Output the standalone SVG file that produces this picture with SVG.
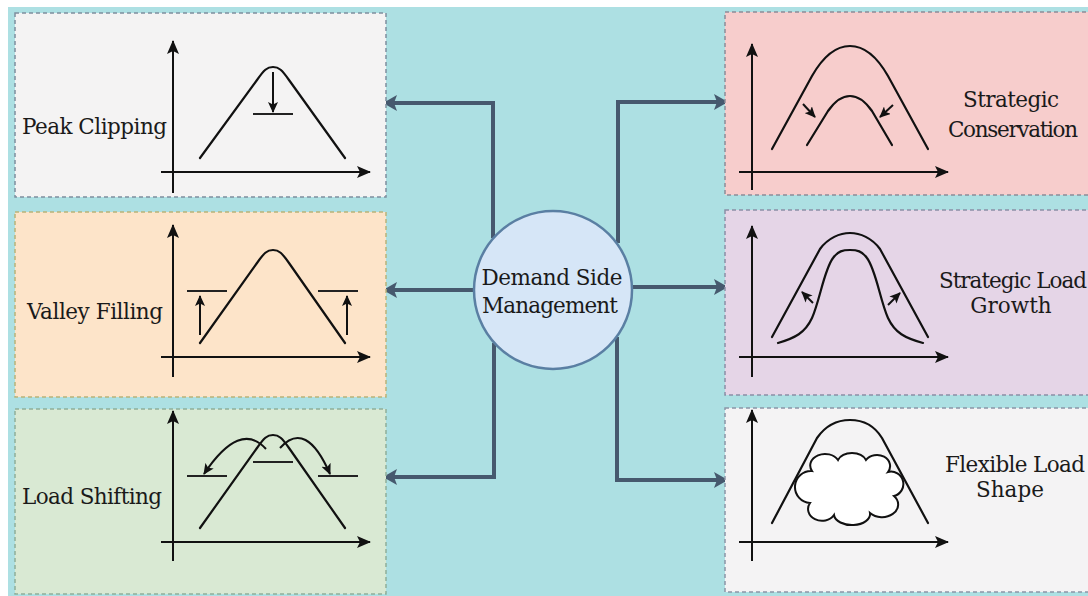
<svg xmlns="http://www.w3.org/2000/svg" width="1088" height="596" viewBox="0 0 1088 596">
<defs>
<style>
.bg{fill:#ade0e3}
.panel{stroke-width:1.5;stroke-dasharray:4 3}
.ax{fill:none;stroke:#111;stroke-width:2;marker-end:url(#axh)}
.cv{fill:none;stroke:#111;stroke-width:2.2;stroke-linejoin:round;stroke-linecap:round}
.ln{fill:none;stroke:#222;stroke-width:2.2}
.sa{fill:none;stroke:#111;stroke-width:2;marker-end:url(#sah)}
.conn{fill:none;stroke:#46596e;stroke-width:4;marker-end:url(#ch)}
.lbl{font-family:"DejaVu Serif","Liberation Serif",serif;font-size:21.5px;fill:#1a1a1a}
.mid{text-anchor:middle}
</style>
<marker id="axh" markerUnits="userSpaceOnUse" markerWidth="14" markerHeight="12" viewBox="0 0 14 12" refX="13" refY="6" orient="auto">
<path d="M0,0 L14,6 L0,12 L3,6 Z" fill="#111"/>
</marker>
<marker id="sah" markerUnits="userSpaceOnUse" markerWidth="11" markerHeight="10" viewBox="0 0 11 10" refX="10" refY="5" orient="auto">
<path d="M0,0 L11,5 L0,10 L2.5,5 Z" fill="#111"/>
</marker>
<marker id="ch" markerUnits="userSpaceOnUse" markerWidth="14" markerHeight="16" viewBox="0 0 14 16" refX="13" refY="8" orient="auto">
<path d="M0,0 L14,8 L0,16 L3,8 Z" fill="#46596e"/>
</marker>
</defs>
<rect x="0" y="0" width="1088" height="596" fill="#ffffff"/>
<rect class="bg" x="8" y="7" width="1080" height="589"/>

<g id="connectors">
<path class="conn" d="M493,238 L493,103 L384,103"/>
<path class="conn" d="M474,290 L384,290"/>
<path class="conn" d="M494,343 L494,477 L384,477"/>
<path class="conn" d="M618,243 L618,102 L727,102"/>
<path class="conn" d="M632,287 L727,287"/>
<path class="conn" d="M617,337 L617,480 L727,480"/>
</g>

<g id="peak-clipping">
<rect class="panel" x="15" y="13" width="371" height="184" fill="#f4f3f3" stroke="#7d8f9e"/>
<path class="ax" d="M173,193 L173,41"/>
<path class="ax" d="M161,172 L370,172"/>
<path class="cv" d="M200,158 L257,80 C264,70 267,67 273,67 C279,67 282,70 289,80 L345,158"/>
<path class="sa" d="M273,72 L273,112"/>
<path class="ln" d="M253,114 L293,114"/>
<text class="lbl" x="22" y="134" textLength="145">Peak Clipping</text>
</g>

<g id="valley-filling">
<rect class="panel" x="15" y="212" width="371" height="185" fill="#fde4c9" stroke="#b8b27a"/>
<path class="ax" d="M173,377 L173,225"/>
<path class="ax" d="M161,357 L370,357"/>
<path class="cv" d="M200,343 L257,263 C264,253 267,250 273,250 C279,250 282,253 289,263 L345,343"/>
<path class="ln" d="M187,291 L227,291 M318,291 L358,291"/>
<path class="sa" d="M200,335 L200,296"/>
<path class="sa" d="M347,335 L347,296"/>
<text class="lbl" x="27" y="319" textLength="136">Valley Filling</text>
</g>

<g id="load-shifting">
<rect class="panel" x="15" y="409" width="371" height="185" fill="#d9e9d3" stroke="#8fae9a"/>
<path class="ax" d="M173,561 L173,411"/>
<path class="ax" d="M161,542 L370,542"/>
<path class="cv" d="M200,528 L257,448 C264,438 267,435 273,435 C279,435 282,438 289,448 L345,528"/>
<path class="ln" d="M253,462 L293,462"/>
<path class="ln" d="M187,476 L227,476 M318,476 L358,476"/>
<path class="sa" d="M266,449 Q240,420 204,474"/>
<path class="sa" d="M280,448 Q306,419 330,474"/>
<text class="lbl" x="22" y="504" textLength="140">Load Shifting</text>
</g>

<g id="strategic-conservation">
<rect class="panel" x="725" y="12" width="370" height="183" fill="#f7cdcc" stroke="#8c8c98"/>
<path class="ax" d="M752,190 L752,44"/>
<path class="ax" d="M739,172 L948,172"/>
<path class="cv" d="M772,149 L812,76 C824,55 836,46 850,46 C864,46 876,55 888,76 L928,149"/>
<path class="cv" d="M807,145 L828,111 C835,101 842,96 850,96 C858,96 865,101 872,111 L892,145"/>
<path class="sa" d="M803,104 L815,117"/>
<path class="sa" d="M893,105 L880,117"/>
<text class="lbl mid" x="1011" y="107" textLength="96">Strategic</text>
<text class="lbl mid" x="1013" y="137" textLength="130">Conservation</text>
</g>

<g id="strategic-load-growth">
<rect class="panel" x="725" y="210" width="370" height="185" fill="#e5d5e7" stroke="#8a8fa6"/>
<path class="ax" d="M752,377 L752,226"/>
<path class="ax" d="M739,357 L948,357"/>
<path class="cv" d="M772,337 L820,249 C828,238 840,233 850,233 C860,233 872,238 880,249 L928,337"/>
<path class="cv" d="M778,343 C795,338 805,333 812,318 C820,300 824,270 833,258 C838,251 843,250 850,250 C857,250 862,251 867,258 C876,270 880,300 888,318 C895,333 905,338 923,343"/>
<path class="sa" d="M813,303 L802,292"/>
<path class="sa" d="M888,305 L900,293"/>
<text class="lbl mid" x="1013" y="288" textLength="148">Strategic Load</text>
<text class="lbl mid" x="1011" y="313">Growth</text>
</g>

<g id="flexible-load-shape">
<rect class="panel" x="725" y="408" width="370" height="184" fill="#f4f3f4" stroke="#8a95a6"/>
<path class="ax" d="M752,561 L752,410"/>
<path class="ax" d="M739,542 L948,542"/>
<path class="cv" d="M772,523 L817,438 C826,425 838,420 850,420 C862,420 874,425 882,438 L928,523"/>
<path d="M812,471 A14,11 0 0 1 838,460 A15,11 0 0 1 866,460 A13,11 0 0 1 888,472 A11,11 0 0 1 894,496 A14,11 0 0 1 870,513 A18,11 0 0 1 834,515 A13,11 0 0 1 810,503 A10,10 0 0 1 812,471 Z" fill="#ffffff" stroke="#111" stroke-width="2"/>
<text class="lbl mid" x="1015" y="472" textLength="140">Flexible Load</text>
<text class="lbl mid" x="1010" y="497">Shape</text>
</g>

<g id="dsm">
<circle cx="553" cy="290" r="79" fill="#d6e6f7" stroke="#5a7fa3" stroke-width="2.5"/>
<text class="lbl mid" x="552" y="285" textLength="141">Demand Side</text>
<text class="lbl mid" x="550" y="313" textLength="136">Management</text>
</g>
</svg>
